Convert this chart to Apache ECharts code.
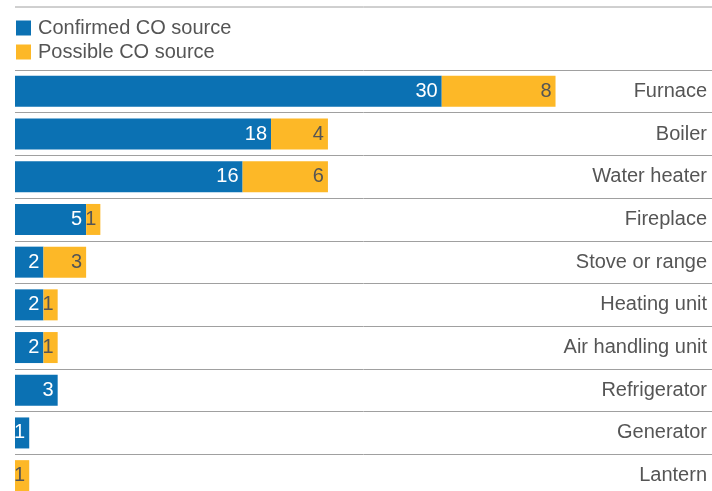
<!DOCTYPE html>
<html><head><meta charset="utf-8">
<script src="https://cdn.jsdelivr.net/npm/echarts@6/dist/echarts.min.js"></script>
<style>html,body{margin:0;padding:0;background:#fff}#c{width:712px;height:491px}</style>
</head><body><div id="c"></div>
<script>
var categories = ["Furnace","Boiler","Water heater","Fireplace","Stove or range","Heating unit","Air handling unit","Refrigerator","Generator","Lantern"];
var confirmed = [30,18,16,5,2,2,2,3,1,0];
var possible = [8,4,6,1,3,1,1,0,0,1];
var seriesNames = ["Confirmed CO source","Possible CO source"];

var FONT = "'Liberation Sans', Arial, sans-serif";
var chart = echarts.init(document.getElementById('c'), null, {renderer:'canvas'});
function lbl(color){
  return {show:true, position:'insideRight', distance:4, color:color, fontSize:20, fontFamily:FONT,
    formatter:function(p){return p.value ? p.value : '';}};
}
chart.setOption({
  animation:false,
  color:['#0B71B3','#FDB827'],
  legend:{orient:'vertical', left:16, top:18, itemWidth:15, itemHeight:15, itemGap:4,
    icon:'rect', data:seriesNames, padding:0,
    textStyle:{fontSize:20, lineHeight:15, color:'#555', fontFamily:FONT, padding:[0,0,0,2]}},
  graphic:[{type:'line', shape:{x1:15,y1:7,x2:712,y2:7}, style:{stroke:'#a0a0a0', lineWidth:1}}],
  grid:{left:15, right:0, top:70, height:427, containLabel:false, outerBoundsMode:'none'},
  xAxis:{type:'value', min:0, max:49, show:false},
  yAxis:{type:'category', data:categories, inverse:true, position:'right',
    axisLine:{show:false}, axisTick:{show:false},
    axisLabel:{inside:true, margin:5, fontSize:20, color:'#555', fontFamily:FONT},
    splitLine:{show:true, lineStyle:{color:'#a0a0a0', width:1}}},
  series:[
    {name:seriesNames[0], type:'bar', stack:'s', data:confirmed, barWidth:31, label:lbl('#fff')},
    {name:seriesNames[1], type:'bar', stack:'s', data:possible, barWidth:31, label:lbl('#555')}
  ]
});
</script></body></html>
